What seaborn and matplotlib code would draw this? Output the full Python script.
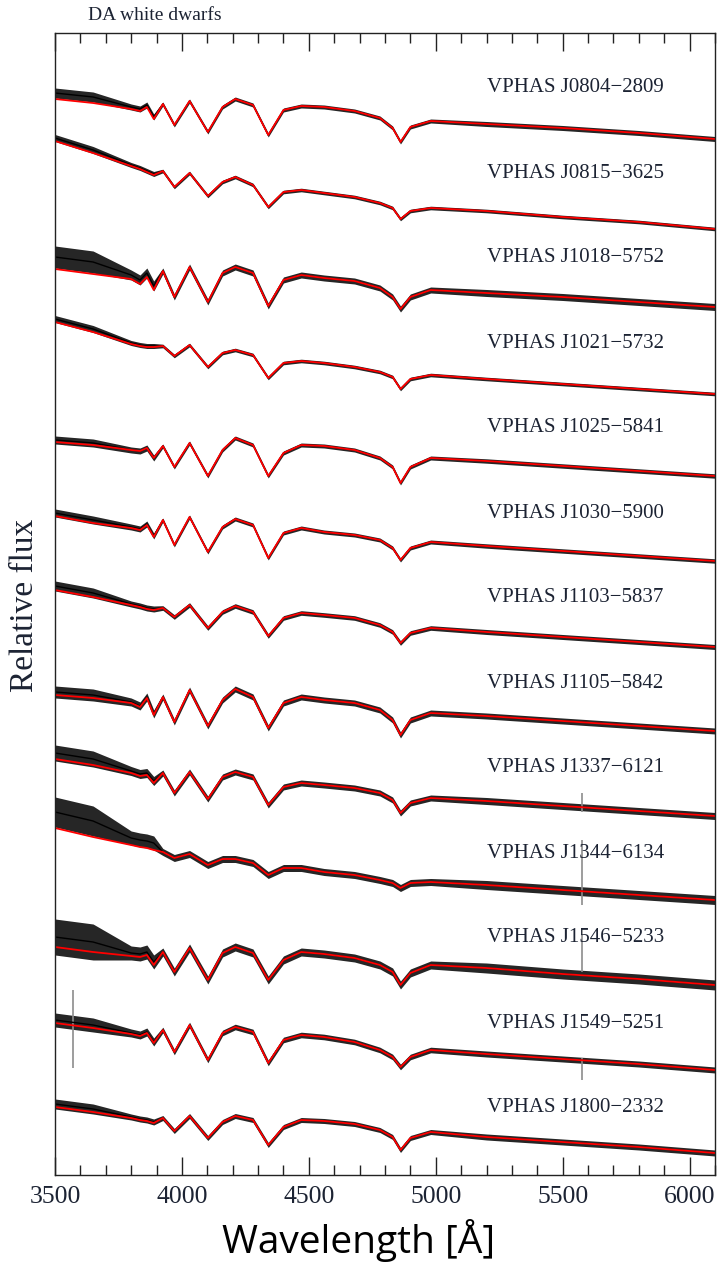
import numpy as np
import pandas as pd
import matplotlib
matplotlib.use('Agg')
import matplotlib.pyplot as plt
import seaborn as sns
from matplotlib.ticker import MultipleLocator

wavelength = [3500, 3650, 3800, 3835, 3862, 3889, 3925, 3970, 4030, 4102, 4160, 4210, 4280,
              4340, 4400, 4470, 4560, 4680, 4780, 4830, 4861, 4900, 4980, 5200, 5500, 5800, 6100]

stars = ['VPHAS J0804−2809', 'VPHAS J0815−3625', 'VPHAS J1018−5752', 'VPHAS J1021−5732',
         'VPHAS J1025−5841', 'VPHAS J1030−5900', 'VPHAS J1103−5837', 'VPHAS J1105−5842',
         'VPHAS J1337−6121', 'VPHAS J1344−6134', 'VPHAS J1546−5233', 'VPHAS J1549−5251',
         'VPHAS J1800−2332']

# model fluxes (arbitrary units, before stacking)
m0804 = [56, 52, 46, 44, 48, 36, 51, 30, 54, 23, 48, 56, 50, 20, 45, 49, 48, 44, 37, 27, 13, 28, 34, 31, 27, 22, 16]
m0815 = [99, 87, 74, 71, 68, 65, 69, 53, 67, 44, 58, 63, 55, 33, 48, 50, 47, 43, 37, 32, 21, 29, 32, 29, 23, 18, 11]
m1018 = [56, 51, 46, 41, 48, 35, 54, 28, 58, 23, 52, 58, 52, 19, 45, 50, 47, 44, 37, 28, 16, 28, 35, 32, 28, 23, 18]
m1021 = [88, 78, 66, 64, 63, 63, 64, 54, 65, 43, 57, 60, 55, 32, 47, 49, 47, 43, 38, 33, 21, 31, 35, 31, 26, 21, 16]
m1025 = [53, 50, 45, 44, 47, 37, 49, 28, 52, 19, 45, 57, 50, 19, 42, 50, 49, 45, 37, 28, 12, 28, 37, 34, 29, 24, 19]
m1030 = [64, 57, 52, 50, 55, 43, 60, 35, 63, 28, 53, 61, 55, 22, 47, 52, 48, 45, 40, 32, 20, 32, 38, 34, 29, 24, 19]
m1103 = [75, 68, 60, 58, 56, 55, 57, 48, 60, 37, 53, 59, 53, 29, 47, 52, 50, 47, 40, 33, 22, 32, 37, 33, 28, 23, 18]
m1105 = [55, 52, 47, 43, 52, 35, 53, 28, 60, 24, 50, 61, 53, 22, 47, 53, 50, 47, 40, 30, 15, 30, 37, 34, 29, 24, 19]
m1337 = [76, 70, 62, 59, 60, 52, 62, 42, 63, 36, 58, 63, 58, 30, 48, 52, 50, 47, 42, 35, 22, 32, 37, 34, 29, 24, 19]
m1344 = [92, 83, 75, 73, 72, 70, 68, 62, 66, 55, 61, 61, 57, 45, 52, 52, 48, 45, 40, 37, 32, 37, 38, 35, 30, 25, 20]
m1546 = [58, 53, 49, 48, 50, 40, 53, 33, 57, 25, 52, 58, 52, 25, 45, 53, 51, 47, 40, 33, 20, 32, 40, 37, 31, 26, 20]
m1549 = [67, 62, 56, 54, 57, 47, 60, 38, 65, 30, 57, 63, 58, 27, 50, 55, 53, 48, 40, 33, 23, 33, 40, 36, 31, 26, 20]
m1800 = [68, 63, 57, 55, 54, 52, 57, 44, 59, 37, 53, 59, 55, 30, 48, 55, 54, 51, 45, 38, 25, 37, 43, 38, 33, 28, 22]
models = [m0804, m0815, m1018, m1021, m1025, m1030, m1103, m1105, m1337, m1344, m1546, m1549, m1800]

# observed spectra: noise half-width per wavelength zone, and blue excess over the model
noise_blue = [5, 3.5, 11, 3.5, 4, 4, 5, 6, 8, 15, 18, 7, 5]
noise_near = [3, 2.5, 5, 2.5, 3, 3, 3, 4, 4.5, 7, 7, 4, 3]
noise_mid = [2, 1.8, 3, 1.8, 2, 2, 2.3, 3, 3, 3.5, 4, 2.8, 2.5]
noise_red = [2.5, 1.8, 3.5, 1.8, 2.2, 2.2, 2.5, 3, 3.5, 4.5, 5, 3, 3]
excess_blue = [6, 3, 12, 3, 2, 3, 4, 3, 6, 16, 10, 3, 3]
excess_near = [2, 1, 4, 1, 0, 1, 1, 1, 2, 7, 3, 1, 1]

# gray spikes (sky line residuals etc.)
spike_star = ['VPHAS J1337−6121', 'VPHAS J1344−6134', 'VPHAS J1546−5233', 'VPHAS J1549−5251', 'VPHAS J1549−5251']
spike_wave = [5577, 5577, 5577, 5577, 3570]
spike_lo = [23, 15, 33, 10, 22]
spike_hi = [42, 80, 77, 32, 100]

spacing = 85
label_level = 67

sns.set_theme(style='ticks')
plt.rcParams['font.family'] = ['Liberation Serif', 'DejaVu Serif']
text_col = '#1c2333'

fig = plt.figure(figsize=(7.19, 12.72), dpi=100)
ax = fig.add_axes([55 / 719, 97 / 1272, 660 / 719, 1142 / 1272])

wl = np.array(wavelength)
n = len(stars)
offsets = {name: spacing * (n - 1 - k) for k, name in enumerate(stars)}

rows_mod = []
rows_obs = []
for k, (name, vals) in enumerate(zip(stars, models)):
    off = offsets[name]
    model = np.array(vals, dtype=float) + off
    noise = np.select([wl <= 3650, wl <= 3889, wl <= 4980],
                      [noise_blue[k], noise_near[k], noise_mid[k]], noise_red[k])
    excess = np.select([wl <= 3650, wl <= 3889], [excess_blue[k], excess_near[k]], 0)
    obs = model + excess
    ax.fill_between(wl, obs - noise, obs + noise, color='black', alpha=0.85, lw=0)
    for w, m, o in zip(wl, model, obs):
        rows_mod.append({'star': name, 'wavelength': w, 'flux': m})
        rows_obs.append({'star': name, 'wavelength': w, 'flux': o})
    ax.text(5203, off + label_level, name, fontsize=15, ha='left', va='center', color=text_col)

for name, w, lo, hi in zip(spike_star, spike_wave, spike_lo, spike_hi):
    ax.vlines(w, offsets[name] + lo, offsets[name] + hi, color='#8c8c8c', lw=1.2)

df_obs = pd.DataFrame(rows_obs)
df_mod = pd.DataFrame(rows_mod)
sns.lineplot(data=df_obs, x='wavelength', y='flux', units='star', estimator=None,
             color='black', lw=1.0, sort=False, ax=ax)
sns.lineplot(data=df_mod, x='wavelength', y='flux', units='star', estimator=None,
             color='red', lw=1.3, sort=False, ax=ax)

ax.set_xlim(3500, 6100)
ax.set_ylim(0, 1142)
ax.set_yticks([])
ax.set_xlabel('')
ax.set_ylabel('')
ax.xaxis.set_major_locator(MultipleLocator(500))
ax.xaxis.set_minor_locator(MultipleLocator(100))
ax.tick_params(axis='x', which='both', direction='in', top=True, bottom=True,
               labelsize=18.5, pad=8, labelcolor=text_col, color='#222222')
ax.tick_params(axis='x', which='major', length=13, width=1)
ax.tick_params(axis='x', which='minor', length=7, width=1)
for sp in ax.spines.values():
    sp.set_visible(True)
    sp.set_color('#222222')
    sp.set_linewidth(1)

fig.text(88 / 719, 1 - 15 / 1272, 'DA white dwarfs', fontsize=14, ha='left', va='center', color=text_col)
fig.text(25 / 719, 1 - 605 / 1272, 'Relative flux', fontsize=24, rotation=90, ha='center', va='center', color=text_col)
fig.text(359 / 719, 1 - 1240 / 1272, 'Wavelength [Å]', fontsize=28, family=['Open Sans', 'DejaVu Sans'],
         ha='center', va='center', color='black')

fig.savefig('out.png', dpi=100)
